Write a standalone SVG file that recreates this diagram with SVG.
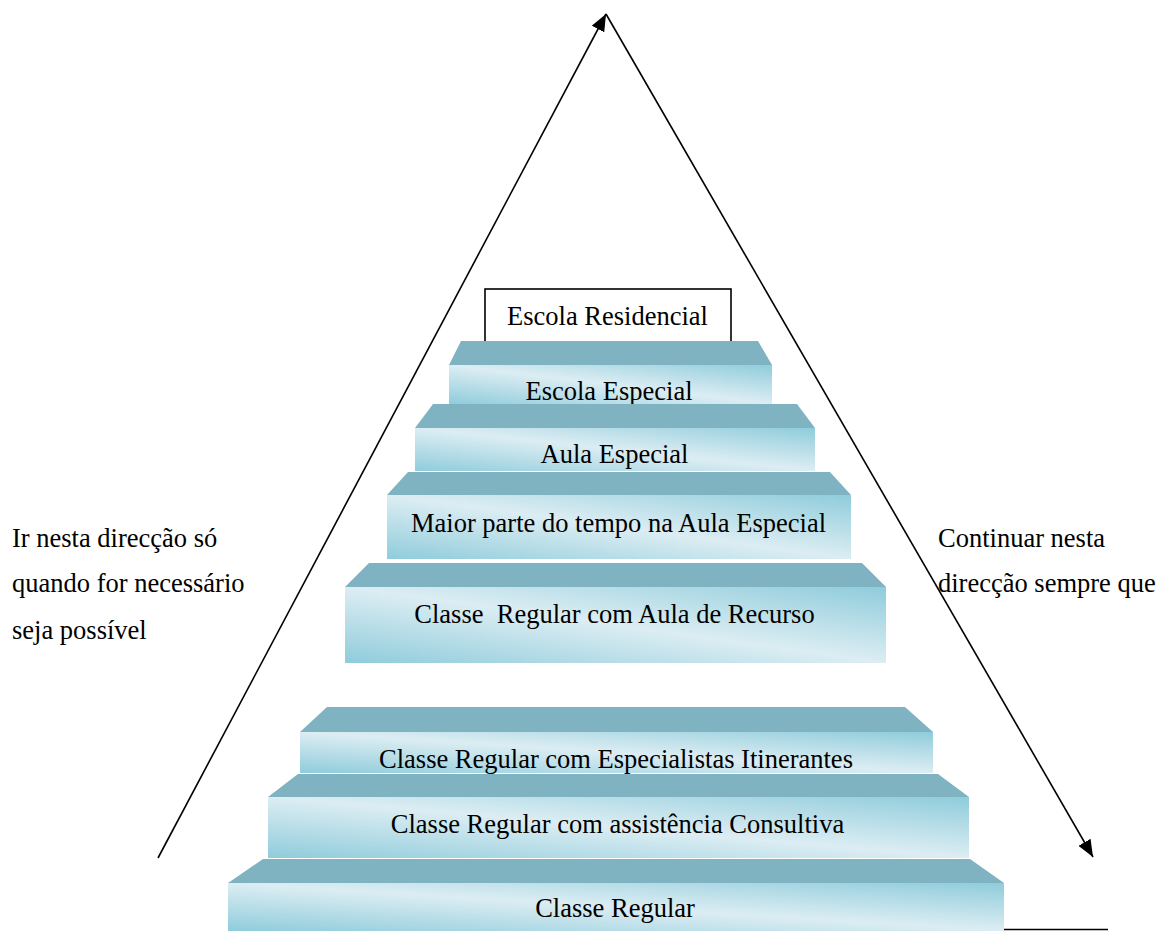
<svg xmlns="http://www.w3.org/2000/svg" width="1159" height="931" viewBox="0 0 1159 931">
  <defs>
    <linearGradient id="face" x1="0" y1="1" x2="1" y2="0">
      <stop offset="0" stop-color="#8fccdb"/>
      <stop offset="0.5" stop-color="#dcedf3"/>
      <stop offset="1" stop-color="#8fccdb"/>
    </linearGradient>
    <marker id="arrow" markerUnits="userSpaceOnUse" markerWidth="18" markerHeight="14" refX="17" refY="7" orient="auto">
      <path d="M0,0 L17,7 L0,14 Z" fill="#000"/>
    </marker>
    <style>
      .bevel { fill: #80b3c2; }
      .front { fill: url(#face); }
      .label { font-family: "Liberation Serif", "Times New Roman", serif; font-size: 26.5px; fill: #000; }
      .mid { text-anchor: middle; }
      .edge { stroke: #000; stroke-width: 1.6; fill: none; }
    </style>
  </defs>
  <rect width="1159" height="931" fill="#fff"/>

  <!-- direction arrows and base line -->
  <g id="connectors">
    <line class="edge" x1="158" y1="858" x2="606" y2="14" marker-end="url(#arrow)"/>
    <line class="edge" x1="606" y1="14" x2="1093" y2="857" marker-end="url(#arrow)"/>
    <line class="edge" x1="1004" y1="929.5" x2="1108" y2="929.5"/>
  </g>

  <!-- side notes -->
  <g id="note-left">
    <text class="label" x="12" y="547">Ir nesta direcção só</text>
    <text class="label" x="12" y="592">quando for necessário</text>
    <text class="label" x="12" y="639">seja possível</text>
  </g>
  <g id="note-right">
    <text class="label" x="938" y="547">Continuar nesta</text>
    <text class="label" x="938" y="592">direcção sempre que</text>
  </g>

  <!-- top level -->
  <g id="escola-residencial">
    <rect x="485" y="289" width="246" height="60" fill="#fff" stroke="#000" stroke-width="1.6"/>
    <text class="label mid" x="607.5" y="325">Escola Residencial</text>
  </g>

  <g id="escola-especial">
    <polygon class="bevel" points="461,341 758,341 772,365 449,365"/>
    <rect class="front" x="449" y="365" width="323" height="39"/>
    <text class="label mid" x="609" y="400">Escola Especial</text>
  </g>

  <g id="aula-especial">
    <polygon class="bevel" points="433,404 797,404 815,428 415,428"/>
    <rect class="front" x="415" y="428" width="400" height="43"/>
    <text class="label mid" x="614.5" y="463">Aula Especial</text>
  </g>

  <g id="maior-parte">
    <polygon class="bevel" points="408,472 830,472 851,495 387,495"/>
    <rect class="front" x="387" y="495" width="464" height="64"/>
    <text class="label mid" x="618.5" y="532">Maior parte do tempo na Aula Especial</text>
  </g>

  <g id="aula-de-recurso">
    <polygon class="bevel" points="369,563 862,563 886,587 345,587"/>
    <rect class="front" x="345" y="587" width="541" height="76"/>
    <text class="label mid" x="614.5" y="623" style="white-space:pre">Classe  Regular com Aula de Recurso</text>
  </g>

  <g id="especialistas-itinerantes">
    <polygon class="bevel" points="327,707 905,707 933,732 300,732"/>
    <rect class="front" x="300" y="732" width="633" height="41"/>
    <text class="label mid" x="616" y="768">Classe Regular com Especialistas Itinerantes</text>
  </g>

  <g id="assistencia-consultiva">
    <polygon class="bevel" points="298,774 938,774 969,797 268,797"/>
    <rect class="front" x="268" y="797" width="701" height="61"/>
    <text class="label mid" x="617.5" y="833">Classe Regular com assistência Consultiva</text>
  </g>

  <g id="classe-regular">
    <polygon class="bevel" points="263,859 970,859 1004,883 228,883"/>
    <rect class="front" x="228" y="883" width="776" height="48"/>
    <text class="label mid" x="615" y="917">Classe Regular</text>
  </g>
</svg>
